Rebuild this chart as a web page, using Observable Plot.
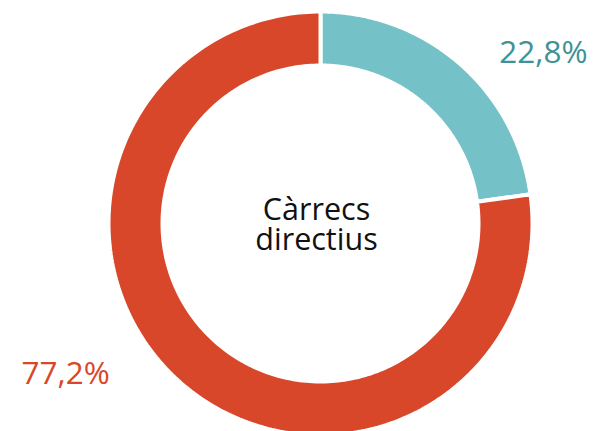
<!DOCTYPE html>
<html>
<head>
<meta charset="utf-8">
<script src="https://cdn.jsdelivr.net/npm/d3@7"></script>
<script src="https://cdn.jsdelivr.net/npm/@observablehq/plot@0.6"></script>
<style>
  html, body { margin: 0; padding: 0; background: #fff; }
  #chart { width: 593px; height: 431px; overflow: hidden; }
</style>
</head>
<body>
<div id="chart"></div>
<script>
// ---- data ----
const categories = ["Dones", "Homes"];
const values = [22.8, 77.2];
const valueLabels = ["22,8%", "77,2%"];
const sliceColors = ["#74c1c8", "#d9472a"];
const labelColors = ["#3e9296", "#d9472a"];
const centerTitle = "Càrrecs\ndirectius";

// ---- geometry derived from data ----
const outerR = 212, innerR = 158;   // stroke (4px white) trims 2px from each edge
const total = d3.sum(values);
const pts = [];
let acc = 0;
categories.forEach((c, i) => {
  const a0 = acc / total * 2 * Math.PI;
  acc += values[i];
  const a1 = acc / total * 2 * Math.PI;
  const n = 240;
  for (let k = 0; k <= n; k++) {
    const a = a0 + (a1 - a0) * k / n;
    pts.push({cat: c, x: outerR * Math.sin(a), y: outerR * Math.cos(a)});
  }
  for (let k = n; k >= 0; k--) {
    const a = a0 + (a1 - a0) * k / n;
    pts.push({cat: c, x: innerR * Math.sin(a), y: innerR * Math.cos(a)});
  }
});

const chart = Plot.plot({
  width: 593,
  height: 431,
  margin: 0,
  style: {fontFamily: "'Open Sans', sans-serif", background: "#fff"},
  x: {domain: [-210, 210], range: [110, 530], axis: null},
  y: {domain: [-210, 210], range: [433, 13], axis: null},
  color: {domain: categories, range: sliceColors},
  marks: [
    Plot.line(pts, {
      x: "x", y: "y", z: "cat",
      fill: "cat",
      stroke: "white",
      strokeWidth: 4,
      strokeLinejoin: "miter",
      curve: "linear-closed"
    }),
    Plot.text([centerTitle], {
      x: () => 0, y: () => 0,
      text: d => d,
      fontSize: 30.5,
      lineHeight: 0.985,
      fill: "#111",
      textAnchor: "middle",
      lineAnchor: "middle",
      dx: -4,
      dy: 2
    }),
    Plot.text([valueLabels[0]], {
      frameAnchor: "top-right",
      text: d => d,
      fontSize: 31.5,
      fill: labelColors[0],
      textAnchor: "end",
      lineAnchor: "bottom",
      dx: -6,
      dy: 62
    }),
    Plot.text([valueLabels[1]], {
      frameAnchor: "bottom-left",
      text: d => d,
      fontSize: 31.5,
      fill: labelColors[1],
      textAnchor: "start",
      lineAnchor: "bottom",
      dx: 21,
      dy: -48
    })
  ]
});
document.getElementById("chart").appendChild(chart);
</script>
</body>
</html>
